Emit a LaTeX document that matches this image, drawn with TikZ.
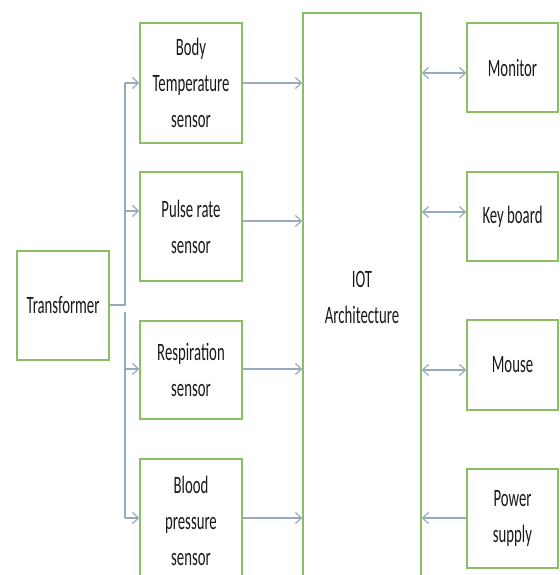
\documentclass[tikz,border=0pt]{standalone}
\usepackage{fontspec}
\setmainfont[FakeStretch=0.59]{Carlito}
\usetikzlibrary{arrows.meta}
\definecolor{boxgreen}{RGB}{140,190,100}
\definecolor{arrowgrey}{RGB}{150,170,190}
\definecolor{txt}{RGB}{25,25,25}
\begin{document}
\begin{tikzpicture}[x=1pt,y=-1pt,
  box/.style={draw=boxgreen, line width=1.4pt, fill=white, inner sep=0pt,
    align=center, text=txt, font=\fontsize{25}{36}\selectfont},
  conn/.style={draw=arrowgrey, line width=1.4pt},
  arr/.style={conn, -{Straight Barb[length=6pt,width=11pt,line width=1.2pt]}},
  darr/.style={conn, {Straight Barb[length=6pt,width=11pt,line width=1.2pt]}-{Straight Barb[length=6pt,width=11pt,line width=1.2pt]}}]
\useasboundingbox (0,0) rectangle (559,575);
\clip (0,0) rectangle (559,575);
\fill[white] (0,0) rectangle (559,575);
% boxes
\node[box, minimum width=92pt, minimum height=109pt] (tr) at (63,305.5) {Transformer};
\node[box, minimum width=102pt, minimum height=120pt] (body) at (191,83) {Body\\Temperature\\sensor};
\node[box, minimum width=102pt, minimum height=109pt] (pulse) at (191,226.5) {Pulse rate\\sensor};
\node[box, minimum width=102pt, minimum height=98pt] (resp) at (191,370) {Respiration\\sensor};
\node[box, minimum width=102pt, minimum height=124pt] (blood) at (191,521) {Blood\\pressure\\sensor};
\node[box, minimum width=118pt, minimum height=568pt] (iot) at (362,297) {IOT\\Architecture};
\node[box, minimum width=91pt, minimum height=89pt] (mon) at (512.5,67.5) {Monitor};
\node[box, minimum width=91pt, minimum height=89pt] (kb) at (512.5,216.5) {Key board};
\node[box, minimum width=91pt, minimum height=90pt] (mouse) at (512.5,365) {Mouse};
\node[box, minimum width=91pt, minimum height=99pt] (pwr) at (512.5,518.5) {Power\\supply};
% trunk coordinates
\coordinate (j) at (125,305);
\coordinate (j2) at (125,312);
\coordinate (t1) at (125,83);
\coordinate (t2) at (125,211);
\coordinate (t3) at (125,369);
\coordinate (t4) at (125,518);
\draw[conn] (tr.east |- j) -- (j) -- (t1);
\draw[conn] (j2) -- (t4);
\draw[arr] (t1) -- (body.west |- t1);
\draw[arr] (t2) -- (pulse.west |- t2);
\draw[arr] (t3) -- (resp.west |- t3);
\draw[arr] (t4) -- (blood.west |- t4);
% sensors to IOT
\coordinate (r1) at (242,83);
\coordinate (r2) at (242,221);
\coordinate (r3) at (242,369);
\coordinate (r4) at (242,518);
\draw[arr] (body.east |- r1) -- (iot.west |- r1);
\draw[arr] (pulse.east |- r2) -- (iot.west |- r2);
\draw[arr] (resp.east |- r3) -- (iot.west |- r3);
\draw[arr] (blood.east |- r4) -- (iot.west |- r4);
% IOT to peripherals
\coordinate (p1) at (467,73);
\coordinate (p2) at (467,212);
\coordinate (p3) at (467,370);
\coordinate (p4) at (467,518);
\draw[darr] (iot.east |- p1) -- (mon.west |- p1);
\draw[darr] (iot.east |- p2) -- (kb.west |- p2);
\draw[darr] (iot.east |- p3) -- (mouse.west |- p3);
\draw[arr] (pwr.west |- p4) -- (iot.east |- p4);
\end{tikzpicture}
\end{document}
